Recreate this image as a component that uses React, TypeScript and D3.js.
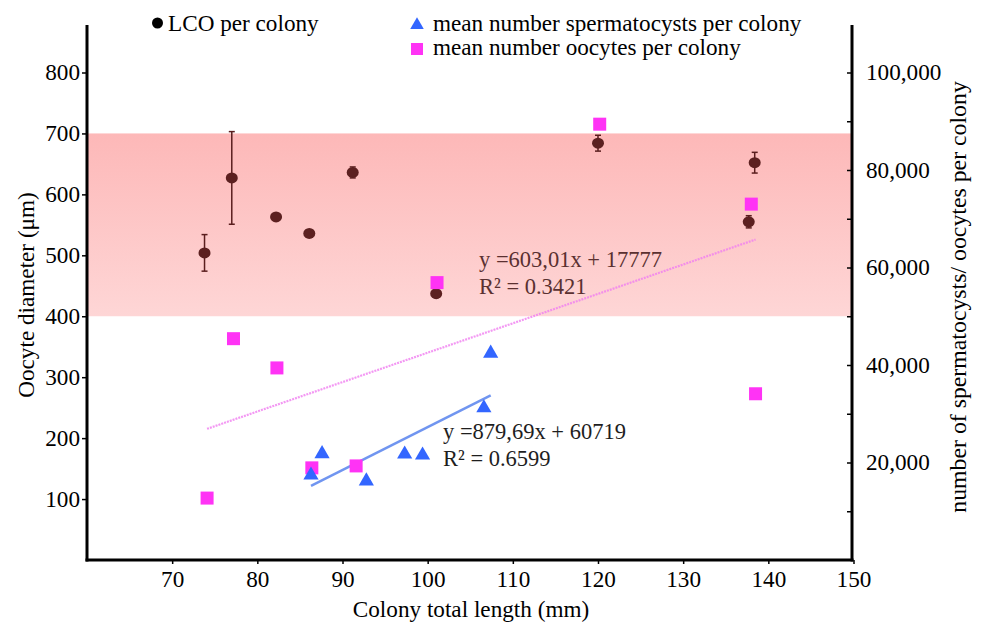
import React, { useEffect, useRef } from "react";
import * as d3 from "d3";

// Colony total length (mm) for each LCO point
const lcoLength = [73.8, 77.0, 82.2, 86.1, 91.2, 101.0, 120.0, 137.7, 138.4];
// Largest oocyte diameter per colony (µm)
const lcoDiameter = [504, 627, 563, 536, 636, 437, 684, 555, 652];
const lcoError = [30, 76, 0, 0, 9, 0, 13, 10, 17];

// Oocytes per colony
const oocyteLength = [74.1, 77.2, 82.3, 86.4, 91.6, 101.1, 120.2, 138.0, 138.5];
const oocyteCount = [12700, 45400, 39400, 18900, 19300, 56900, 89400, 73000, 34100];

// Spermatocysts per colony
const spermLength = [86.3, 87.6, 92.8, 97.3, 99.4, 106.6, 107.4];
const spermCount = [17600, 22000, 16400, 21900, 21700, 31400, 42600];

// Trendline coefficients [slope, intercept]
const oocyteTrend = [603.01, -17777];
const spermTrend = [879.69, -60719];
const oocyteEquation = ["y =603,01x + 17777", "R² = 0.3421"];
const spermEquation = ["y =879,69x + 60719", "R² = 0.6599"];

const xTicks = [70, 80, 90, 100, 110, 120, 130, 140, 150];
const leftTicks = [100, 200, 300, 400, 500, 600, 700, 800];
const rightTicks = [10000, 20000, 30000, 40000, 50000, 60000, 70000, 80000, 90000, 100000];
const rightLabelled = [20000, 40000, 60000, 80000, 100000];
const bandRange = [400, 700];

const FONT = "Liberation Serif, Tinos, Times New Roman, Times, DejaVu Serif, serif";
const FS = 23.2;

export default function App() {
  const ref = useRef<SVGSVGElement>(null);

  useEffect(() => {
    const svg = d3.select(ref.current);
    svg.selectAll("*").remove();

    const left = 87, right = 852, top = 25, bottom = 560;
    const x = d3.scaleLinear().domain([60, 150]).range([left, 853.5]);
    const yL = d3.scaleLinear().domain([0, 800]).range([bottom, 72.5]);
    const yR = d3.scaleLinear().domain([0, 100000]).range([bottom, 72.5]);

    const defs = svg.append("defs");
    const grad = defs.append("linearGradient").attr("id", "band").attr("x1", 0).attr("x2", 0).attr("y1", 0).attr("y2", 1);
    grad.append("stop").attr("offset", "0%").attr("stop-color", "#fdb8b8");
    grad.append("stop").attr("offset", "100%").attr("stop-color", "#fed6d6");

    // band
    svg.append("rect")
      .attr("x", left).attr("width", right - left)
      .attr("y", yL(bandRange[1])).attr("height", yL(bandRange[0]) - yL(bandRange[1]))
      .attr("fill", "url(#band)");

    // trendlines
    const oExt = d3.extent(oocyteLength) as [number, number];
    const sExt = d3.extent(spermLength) as [number, number];
    const line = d3.line<number[]>().x(d => x(d[0])).y(d => yR(d[1]));
    svg.append("path")
      .attr("d", line(oExt.map(v => [v, oocyteTrend[0] * v + oocyteTrend[1]])))
      .attr("stroke", "#f07ef0").attr("stroke-width", 2.2).attr("stroke-opacity", 0.8)
      .attr("stroke-dasharray", "2 1").attr("fill", "none");
    svg.append("path")
      .attr("d", line(sExt.map(v => [v, spermTrend[0] * v + spermTrend[1]])))
      .attr("stroke", "#7095f0").attr("stroke-width", 2.5).attr("fill", "none");

    // equations
    const eq = (lines: string[], xx: number, yy: number, color: string) => {
      lines.forEach((t, i) => {
        svg.append("text").attr("x", xx).attr("y", yy + i * 26.5)
          .style("font-family", FONT).attr("font-size", 22.5).attr("fill", color).text(t);
      });
    };
    eq(oocyteEquation, 479, 267, "#5a3030");
    eq(spermEquation, 443, 439, "#1e1e1e");

    // LCO error bars & points
    const lco = lcoLength.map((v, i) => ({ x: v, y: lcoDiameter[i], e: lcoError[i] }));
    const eg = svg.append("g").attr("stroke", "#5a1e1e").attr("stroke-width", 1.5);
    lco.filter(d => d.e > 0).forEach(d => {
      const cx = x(d.x);
      eg.append("line").attr("x1", cx).attr("x2", cx).attr("y1", yL(d.y + d.e)).attr("y2", yL(d.y - d.e));
      eg.append("line").attr("x1", cx - 3).attr("x2", cx + 3).attr("y1", yL(d.y + d.e)).attr("y2", yL(d.y + d.e));
      eg.append("line").attr("x1", cx - 3).attr("x2", cx + 3).attr("y1", yL(d.y - d.e)).attr("y2", yL(d.y - d.e));
    });
    svg.append("g").selectAll("ellipse").data(lco).join("ellipse")
      .attr("cx", d => x(d.x)).attr("cy", d => yL(d.y)).attr("rx", 6).attr("ry", 5.5)
      .attr("fill", "#5c2020");

    // oocyte squares
    svg.append("g").selectAll("rect").data(oocyteLength.map((v, i) => [v, oocyteCount[i]])).join("rect")
      .attr("x", d => x(d[0]) - 6.5).attr("y", d => yR(d[1]) - 6.5).attr("width", 13).attr("height", 13)
      .attr("fill", "#ff33f5");

    // spermatocyst triangles
    const tri = d3.symbol().type(d3.symbolTriangle).size(100);
    const triLegend = d3.symbol().type(d3.symbolTriangle).size(80);
    svg.append("g").selectAll("path").data(spermLength.map((v, i) => [v, spermCount[i]])).join("path")
      .attr("d", tri)
      .attr("transform", d => `translate(${x(d[0])},${yR(d[1]) + 1})`)
      .attr("fill", "#3366ff");

    // axes
    const styleAxis = (g: any) => {
      g.select(".domain").remove();
      g.selectAll(".tick line").attr("stroke", "#000").attr("stroke-width", 1.5);
      g.selectAll(".tick text").style("font-family", FONT).attr("font-size", FS).attr("fill", "#000");
    };
    svg.append("g").attr("transform", `translate(${left},0)`)
      .call(d3.axisLeft(yL).tickValues(leftTicks).tickSize(5).tickPadding(2).tickFormat(d3.format("d")))
      .call(styleAxis);
    svg.append("g").attr("transform", `translate(${right},0)`)
      .call(d3.axisRight(yR).tickValues(rightTicks).tickSizeInner(-5).tickSizeOuter(0).tickPadding(14)
        .tickFormat(d => (rightLabelled.includes(d as number) ? d3.format(",")(d as number) : "")))
      .call(styleAxis);
    svg.append("g").attr("transform", `translate(0,${bottom})`)
      .call(d3.axisBottom(x).tickValues(xTicks).tickSize(4).tickPadding(7).tickFormat(d3.format("d")))
      .call(styleAxis);

    // axis lines
    const ax = svg.append("g").attr("stroke", "#000").attr("stroke-width", 3);
    ax.append("line").attr("x1", left).attr("x2", left).attr("y1", top).attr("y2", bottom + 1.5);
    ax.append("line").attr("x1", right).attr("x2", right).attr("y1", top).attr("y2", bottom + 1.5);
    ax.append("line").attr("x1", left - 1.5).attr("x2", right + 1.5).attr("y1", bottom).attr("y2", bottom);

    // axis titles
    const title = (t: string, fs: number) => svg.append("text").attr("text-anchor", "middle")
      .style("font-family", FONT).attr("font-size", fs).text(t);
    title("Oocyte diameter (μm)", FS).attr("transform", "translate(34,295) rotate(-90)");
    title("Colony total length (mm)", FS).attr("x", 471).attr("y", 617);
    title("number of spermatocysts/ oocytes per colony", 23.8).attr("transform", "translate(966,297) rotate(-90)");

    // legend
    const lg = svg.append("g").style("font-family", FONT).attr("font-size", FS);
    lg.append("circle").attr("cx", 157.5).attr("cy", 23).attr("r", 5.5).attr("fill", "#000");
    lg.append("text").attr("x", 168).attr("y", 30.5).text("LCO per colony");
    lg.append("path").attr("d", triLegend).attr("transform", "translate(417,25)").attr("fill", "#3366ff");
    lg.append("text").attr("x", 433).attr("y", 31).text("mean number spermatocysts per colony");
    lg.append("rect").attr("x", 411).attr("y", 43).attr("width", 12).attr("height", 12).attr("fill", "#ff33f5");
    lg.append("text").attr("x", 433).attr("y", 55).text("mean number oocytes per colony");
  }, []);

  return (
    <svg ref={ref} width={986} height={624} style={{ position: "absolute", left: 0, top: 0, background: "#fff" }} />
  );
}
